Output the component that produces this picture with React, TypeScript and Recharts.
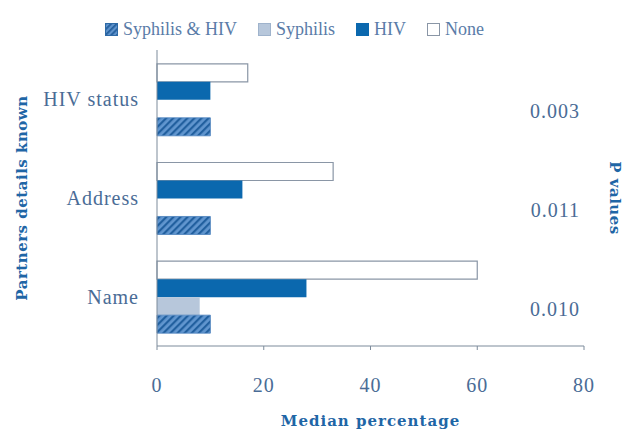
import { BarChart, Bar, XAxis, YAxis } from 'recharts';

const categories = ['HIV status', 'Address', 'Name'];
const pValues = ['0.003', '0.011', '0.010'];
const noneValues = [17, 33, 60];
const hivValues = [10, 16, 28];
const syphilisValues = [0, 0, 8];
const bothValues = [10, 10, 10];
const xTicks = [0, 20, 40, 60, 80];

const data = categories.map((c, i) => ({
  category: c,
  p: pValues[i],
  none: noneValues[i],
  hiv: hivValues[i],
  syphilis: syphilisValues[i],
  both: bothValues[i],
}));

const TEXT = '#4a6c96';
const TITLE = '#1f66a6';
const AXIS = '#7d8b9b';
const serif = '"Liberation Serif", "Times New Roman", serif';
const titleFont = '"DejaVu Serif", serif';

const legendItems = [
  { name: 'Syphilis & HIV', fill: 'url(#hatch)', stroke: '#2e6aa6' },
  { name: 'Syphilis', fill: '#b7c7db', stroke: '#9fb3cc' },
  { name: 'HIV', fill: '#0b68ae', stroke: '#0b68ae' },
  { name: 'None', fill: '#ffffff', stroke: '#8a96a6' },
];

const PTick = (props: any) => {
  const { x, y, payload } = props;
  return (
    <text x={x + 4} y={y + 12} textAnchor="end" dominantBaseline="central"
      fill={TEXT} fontSize={20} fontFamily={serif} letterSpacing={1}>
      {payload.value}
    </text>
  );
};

const XTick = (props: any) => {
  const { x, y, payload } = props;
  return (
    <text x={x} y={y + 11} textAnchor="middle" dominantBaseline="central"
      fill={TEXT} fontSize={20} fontFamily={serif} letterSpacing={1}>
      {payload.value}
    </text>
  );
};

export default function App() {
  return (
    <div style={{ position: 'absolute', left: 0, top: 0, width: 634, height: 437, background: '#fff' }}>
      {/* legend */}
      <div style={{ position: 'absolute', top: 19, left: 105, display: 'flex', gap: 21, fontFamily: serif, fontSize: 18, color: '#5a7ca8' }}>
        {legendItems.map((l) => (
          <div key={l.name} style={{ display: 'flex', alignItems: 'center' }}>
            <svg width={13} height={13} style={{ marginRight: 5 }}>
              <defs>
                <pattern id="hatchL" patternUnits="userSpaceOnUse" width={4} height={4} patternTransform="rotate(45)">
                  <rect width={4} height={4} fill="#5f93cc" />
                  <rect width={1.8} height={4} fill="#24609e" />
                </pattern>
              </defs>
              <rect x={0.5} y={0.5} width={12} height={12}
                fill={l.fill === 'url(#hatch)' ? 'url(#hatchL)' : l.fill} stroke={l.stroke} />
            </svg>
            <span>{l.name}</span>
          </div>
        ))}
      </div>
      <BarChart width={634} height={437} data={data} layout="vertical"
        margin={{ top: 50, right: 50, bottom: 11, left: 0 }}
        barCategoryGap="14%" barGap={0}>
        <defs>
          <pattern id="hatch" patternUnits="userSpaceOnUse" width={5} height={5} patternTransform="rotate(45)">
            <rect width={5} height={5} fill="#6196cf" />
            <rect width={2.2} height={5} fill="#22609f" />
          </pattern>
        </defs>
        <XAxis type="number" domain={[0, 80]} ticks={xTicks} height={80}
          stroke={AXIS} tickSize={4} tickMargin={24} tick={<XTick />}
          label={{ value: 'Median percentage', position: 'insideBottom', offset: 0, fill: TITLE, fontSize: 15, fontWeight: 'bold', fontFamily: titleFont, letterSpacing: 1 }} />
        <YAxis yAxisId="cat" type="category" dataKey="category" width={157}
          axisLine={false} tickLine={false} tickMargin={12}
          tick={{ fill: TEXT, fontSize: 20, fontFamily: serif, letterSpacing: 1 }}
          label={{ value: 'Partners details known', angle: -90, position: 'insideLeft', offset: 22, fill: TITLE, fontSize: 15, fontWeight: 'bold', fontFamily: titleFont, letterSpacing: 0.5, style: { textAnchor: 'middle' } }} />
        <YAxis yAxisId="bounds" type="number" domain={[0, 3]} ticks={[0, 1, 2, 3]}
          mirror tick={false} tickSize={-5} stroke={AXIS} />
        <YAxis yAxisId="p" type="category" dataKey="p" orientation="right" mirror
          axisLine={false} tickLine={false} tick={<PTick />}
          label={{ value: 'P values', angle: 90, position: 'insideRight', offset: -31, fill: TITLE, fontSize: 15, fontWeight: 'bold', fontFamily: titleFont, letterSpacing: 0.5, style: { textAnchor: 'middle' } }} />
        <Bar yAxisId="cat" dataKey="none" name="None" fill="#ffffff" stroke="#8a96a6" strokeWidth={1.2} isAnimationActive={false} />
        <Bar yAxisId="cat" dataKey="hiv" name="HIV" fill="#0b68ae" isAnimationActive={false} />
        <Bar yAxisId="cat" dataKey="syphilis" name="Syphilis" fill="#b7c7db" isAnimationActive={false} />
        <Bar yAxisId="cat" dataKey="both" name="Syphilis & HIV" fill="url(#hatch)" stroke="#4a80bc" strokeWidth={0.8} isAnimationActive={false} />
      </BarChart>
    </div>
  );
}
